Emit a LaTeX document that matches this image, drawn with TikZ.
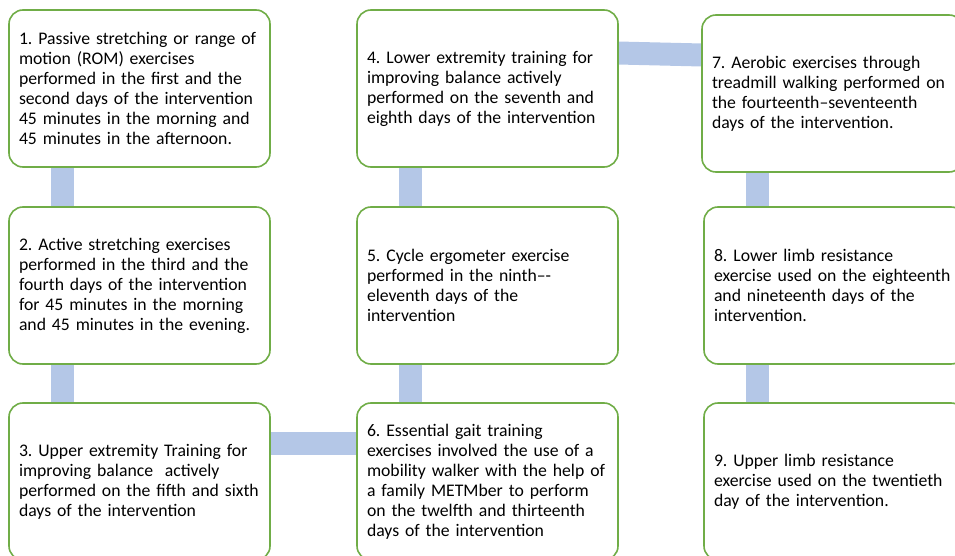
\documentclass[tikz,border=0pt]{standalone}
\usepackage{fontspec}
\setmainfont{Carlito}
\usetikzlibrary{positioning,backgrounds}
\definecolor{boxgreen}{HTML}{70AD47}
\definecolor{linkblue}{HTML}{B4C7E7}

\begin{document}
\frenchspacing
\begin{tikzpicture}[x=1pt, y=1pt,
      stage/.style={draw=boxgreen, line width=1.6pt, rounded corners=14pt, fill=white,
                    minimum width=261pt, minimum height=157pt, text width=241pt,
                    inner xsep=10pt, outer sep=0pt, align=left,
                    font=\fontsize{17.7}{20}\selectfont},
      link/.style={linkblue, line width=23pt}
    ]
      \clip (0,0) rectangle (955,-556);

      \node[stage, anchor=north west] (s1) at (9,-10)
        {1. Passive stretching or range of\\ motion (ROM) exercises\\ performed in the first and the\\ second days of the intervention\\ 45 minutes in the morning and\\ 45 minutes in the afternoon.};
      \node[stage, below=40pt of s1] (s2)
        {2. Active stretching exercises\\ performed in the third and the\\ fourth days of the intervention\\ for 45 minutes in the morning\\ and 45 minutes in the evening.};
      \node[stage, below=39pt of s2] (s3)
        {3. Upper extremity Training for\\ improving balance\ \ actively\\ performed on the fifth and sixth\\ days of the intervention};

      \node[stage, right=87pt of s1] (s4)
        {4. Lower extremity training for\\ improving balance actively\\ performed on the seventh and\\ eighth days of the intervention};
      \node[stage, right=87pt of s2] (s5)
        {5. Cycle ergometer exercise\\ performed in the ninth–-\\ eleventh days of the\\ intervention};
      \node[stage, right=87pt of s3] (s6)
        {6. Essential gait training\\ exercises involved the use of a\\ mobility walker with the help of\\ a family METMber to perform\\ on the twelfth and thirteenth\\ days of the intervention};

      \node[stage, right=84pt of s4, yshift=-5pt] (s7)
        {7. Aerobic exercises through\\ treadmill walking performed on\\ the fourteenth–seventeenth\\ days of the intervention.};
      \node[stage, right=86pt of s5] (s8)
        {8. Lower limb resistance\\ exercise used on the eighteenth\\ and nineteenth days of the\\ intervention.};
      \node[stage, right=86pt of s6] (s9)
        {9. Upper limb resistance\\ exercise used on the twentieth\\ day of the intervention.};

      \begin{scope}[on background layer]
        \draw[link] ([xshift=53pt]s1.south west) -- ([xshift=53pt]s2.north west);
        \draw[link] ([xshift=53pt]s2.south west) -- ([xshift=53pt]s3.north west);
        \draw[link] ([yshift=-40pt]s3.north east) -- ([yshift=-40pt]s6.north west);
        \draw[link] ([xshift=53pt]s6.north west) -- ([xshift=53pt]s5.south west);
        \draw[link] ([xshift=53pt]s5.north west) -- ([xshift=53pt]s4.south west);
        \draw[link] ([yshift=-43pt]s4.north east) -- ([yshift=-40pt]s7.north west);
        \draw[link] ([xshift=53pt]s8.north west |- s7.south) -- ([xshift=53pt]s8.north west);
        \draw[link] ([xshift=53pt]s8.south west) -- ([xshift=53pt]s9.north west);
      \end{scope}
    \end{tikzpicture}
\end{document}
